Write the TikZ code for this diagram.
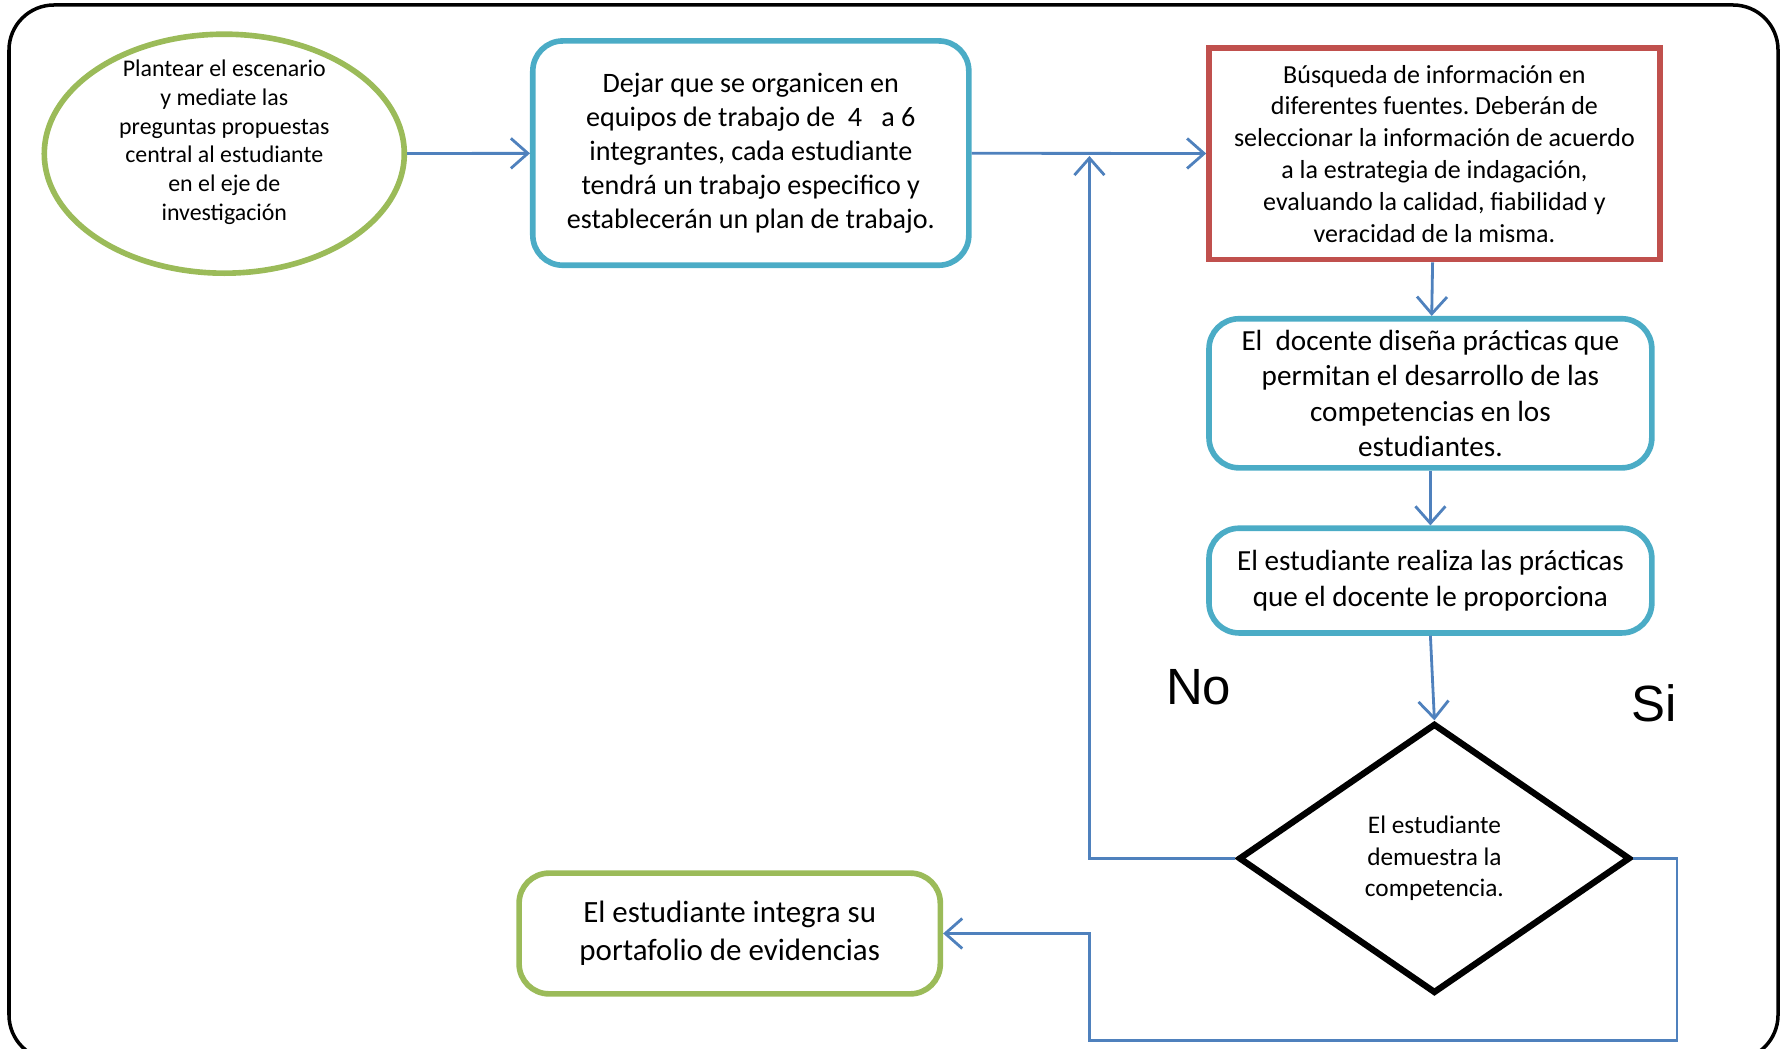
\documentclass[tikz,border=0pt]{standalone}
\usepackage{fontspec}
\setmainfont{Carlito}
\newfontfamily\arialfont{Liberation Sans}
\usepackage{tikz}
\usetikzlibrary{arrows.meta,shapes,positioning,calc}
\definecolor{ppgreen}{HTML}{9BBB59}
\definecolor{ppblue}{HTML}{4BACC6}
\definecolor{ppred}{HTML}{C0504D}
\definecolor{pparrow}{HTML}{4F81BD}
\frenchspacing

\begin{document}
\begin{tikzpicture}[
  caja/.style={draw=ppblue, line width=1.6pt, rounded corners=0.3cm, align=center, inner sep=0pt},
  flecha/.style={-{Straight Barb[length=1.7mm, width=3mm]}, draw=pparrow, line width=0.8pt},
]
  \useasboundingbox (0,0) rectangle (17.85,-10.49);
  \draw[line width=1pt, rounded corners=0.45cm] (0.09,-0.05) rectangle (17.78,-10.6);

  \node[ellipse, draw=ppgreen, line width=1.6pt, minimum width=3.6cm, minimum height=2.39cm, inner xsep=0pt, inner ysep=-4pt, align=center, font=\fontsize{6.8}{8.2}\selectfont] (escenario) at (2.243,-1.537) {Plantear el escenario\\ y mediate las\\ preguntas propuestas\\ central al estudiante\\ en el eje de\\ investigación\\[-0.5pt]};
  \node[caja, minimum width=4.36cm, minimum height=2.243cm, font=\fontsize{8}{9.7}\selectfont] (equipos) at (7.508,-1.531) {Dejar que se organicen en\\ equipos de trabajo de\ \ 4\ \ \ a 6\\ integrantes, cada estudiante\\ tendrá un trabajo especifico y\\ establecerán un plan de trabajo.};
  \node[caja, draw=ppred, rounded corners=0pt, minimum width=4.508cm, minimum height=2.117cm, font=\fontsize{7.4}{9.06}\selectfont] (busqueda) at (14.344,-1.537) {Búsqueda de información en\\ diferentes fuentes. Deberán de\\ seleccionar la información de acuerdo\\ a la estrategia de indagación,\\ evaluando la calidad, fiabilidad y\\ veracidad de la misma.};
  \node[caja, minimum width=4.428cm, minimum height=1.491cm, font=\fontsize{8.3}{10.1}\selectfont] (disena) at (14.304,-3.933) {El\ \ docente diseña prácticas que\\ permitan el desarrollo de las\\ competencias en los\\ estudiantes.};
  \node[caja, minimum width=4.428cm, minimum height=1.047cm, font=\fontsize{8.3}{10.1}\selectfont] (realiza) at (14.304,-5.806) {El estudiante realiza las prácticas\\ que el docente le proporciona};
  \node[diamond, draw, line width=1.8pt, minimum width=3.916cm, minimum height=2.698cm, inner sep=0pt, aspect=1.45, align=center, font=\fontsize{7.2}{9}\selectfont] (demuestra) at (14.344,-8.584) {El estudiante\\ demuestra la\\ competencia.};
  \node[caja, draw=ppgreen, minimum width=4.212cm, minimum height=1.207cm, font=\fontsize{8.8}{10.7}\selectfont] (portafolio) at (7.297,-9.335) {El estudiante integra su\\ portafolio de evidencias};

  \node[font=\arialfont\fontsize{14.5}{17}\selectfont] (no) at (11.987,-6.876) {No};
  \node[font=\arialfont\fontsize{14.5}{17}\selectfont] (si) at (16.541,-7.035) {Si};

  \coordinate (union) at (10.894,-1.56);
  \coordinate (vueltaR) at (16.769,-10.405);
  \coordinate (vueltaL) at (10.894,-10.405);

  \draw[flecha] (escenario) -- (equipos);
  \draw[flecha] (equipos) -- (busqueda);
  \draw[flecha] (busqueda) -- (disena);
  \draw[flecha] (disena) -- (realiza);
  \draw[flecha] (realiza.south) -- (demuestra.north);
  \draw[flecha] (demuestra.west) -| (union);
  \draw[flecha] (demuestra.east) -| (vueltaR) -- (vueltaL) |- (portafolio.east);
\end{tikzpicture}
\end{document}
